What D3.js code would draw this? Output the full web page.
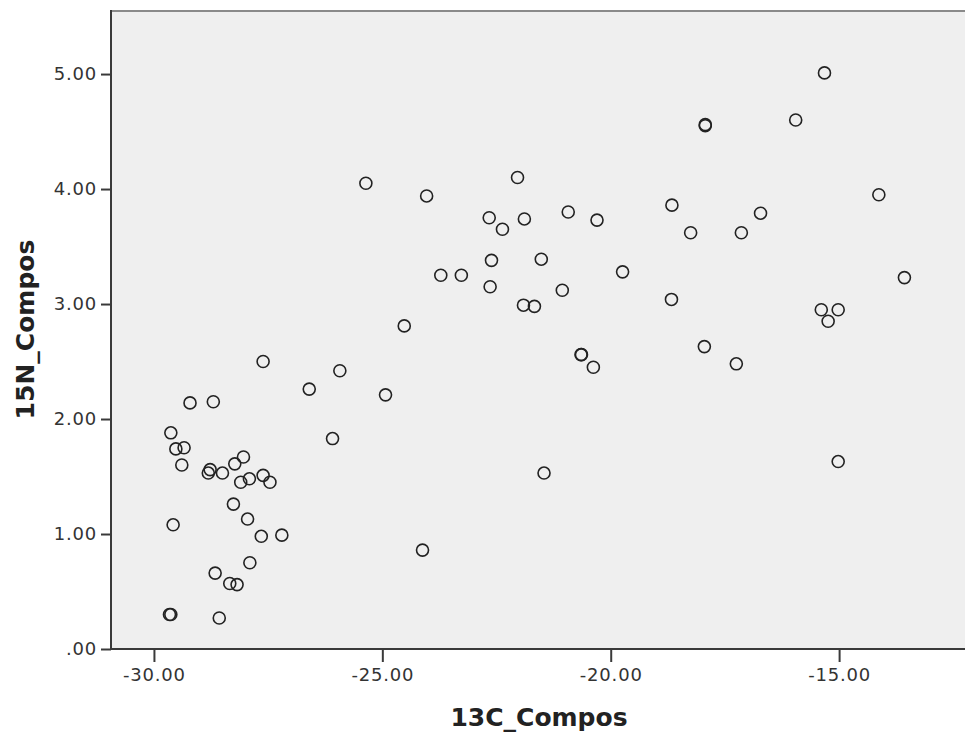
<!DOCTYPE html>
<html>
<head>
<meta charset="utf-8">
<script src="https://cdn.jsdelivr.net/npm/d3@7"></script>
<style>
  body { margin: 0; background: #fff; }
  .axis text { font-family: "DejaVu Sans", sans-serif; font-size: 18px; fill: #333; letter-spacing: 0.8px; }
  .axis path, .axis line { stroke: #3a3a3a; stroke-width: 2; }
  .title { font-family: "DejaVu Sans", sans-serif; font-weight: bold; font-size: 25px; fill: #222; }
</style>
</head>
<body>
<div id="chart"></div>
<script>
// 13C_Compos (x) and 15N_Compos (y)
var c13 = [-29.66, -29.63, -28.57, -29.63, -29.52, -29.34, -29.39, -29.21, -28.70, -29.58,
           -28.77, -28.81, -28.50, -28.23, -28.04, -28.10, -27.91, -27.61, -27.46, -28.26,
           -27.95, -27.65, -27.20, -27.90, -28.66, -28.34, -28.18, -27.61, -26.60, -25.93,
           -26.09, -24.93, -25.36, -24.03, -24.52, -23.72, -23.27, -24.12, -22.04, -22.66,
           -22.37, -21.89, -22.61, -22.64, -21.52, -21.91, -21.67, -21.46, -21.06, -20.93,
           -20.30, -20.65, -20.64, -20.38, -19.74, -18.66, -18.25, -18.67, -17.93, -17.93,
           -17.95, -17.14, -16.72, -17.25, -15.95, -15.32, -15.39, -15.02, -15.24, -15.02,
           -14.13, -13.57];
var n15 = [0.30, 0.30, 0.27, 1.88, 1.74, 1.75, 1.60, 2.14, 2.15, 1.08,
           1.56, 1.53, 1.53, 1.61, 1.67, 1.45, 1.48, 1.51, 1.45, 1.26,
           1.13, 0.98, 0.99, 0.75, 0.66, 0.57, 0.56, 2.50, 2.26, 2.42,
           1.83, 2.21, 4.05, 3.94, 2.81, 3.25, 3.25, 0.86, 4.10, 3.75,
           3.65, 3.74, 3.38, 3.15, 3.39, 2.99, 2.98, 1.53, 3.12, 3.80,
           3.73, 2.56, 2.56, 2.45, 3.28, 3.86, 3.62, 3.04, 4.56, 4.55,
           2.63, 3.62, 3.79, 2.48, 4.60, 5.01, 2.95, 2.95, 2.85, 1.63,
           3.95, 3.23];
var xTicks = [-30, -25, -20, -15];
var yTicks = [0, 1, 2, 3, 4, 5];

(function() {
    var W = 965, H = 736,
        pl = 111, pt = 10, pr = 967, pb = 649;

    var svg = d3.select('#chart').append('svg')
        .attr('width', W)
        .attr('height', H);

    var x = d3.scaleLinear().domain([-30.94, -12.2]).range([pl, pr]);
    var y = d3.scaleLinear().domain([0, 5.557]).range([pb, pt]);

    var fmt = function(d) { return d === 0 ? '.00' : d.toFixed(2); };

    // plot background + top frame
    svg.append('rect')
        .attr('x', pl).attr('y', pt)
        .attr('width', pr - pl).attr('height', pb - pt)
        .attr('fill', '#efefef');
    svg.append('line')
        .attr('x1', pl).attr('x2', pr)
        .attr('y1', pt + 1).attr('y2', pt + 1)
        .attr('stroke', '#8a8a8a').attr('stroke-width', 2);

    var yAxis = svg.append('g')
        .attr('class', 'axis')
        .attr('transform', 'translate(' + pl + ',0)')
        .call(d3.axisLeft(y).tickValues(yTicks).tickFormat(fmt).tickSize(10).tickSizeOuter(0).tickPadding(4));
    yAxis.select('.domain').attr('d', 'M0,' + pt + 'V' + pb);

    var xAxis = svg.append('g')
        .attr('class', 'axis')
        .attr('transform', 'translate(0,' + pb + ')')
        .call(d3.axisBottom(x).tickValues(xTicks).tickFormat(fmt).tickSize(13).tickSizeOuter(0).tickPadding(6));
    xAxis.select('.domain').attr('d', 'M' + pl + ',0H' + pr);

    // points
    svg.append('g').selectAll('circle')
        .data(c13.map(function(d, i) { return [d, n15[i]]; }))
        .enter()
        .append('circle')
        .attr('cx', function(d) { return x(d[0]); })
        .attr('cy', function(d) { return y(d[1]); })
        .attr('r', 6)
        .attr('fill', 'none')
        .attr('stroke', '#222')
        .attr('stroke-width', 1.6);

    // axis titles
    svg.append('text')
        .attr('class', 'title')
        .attr('x', (pl + pr) / 2)
        .attr('y', 726)
        .attr('text-anchor', 'middle')
        .text('13C_Compos');

    svg.append('text')
        .attr('class', 'title')
        .attr('transform', 'translate(34,' + ((pt + pb) / 2) + ') rotate(-90)')
        .attr('text-anchor', 'middle')
        .text('15N_Compos');
})();
</script>
</body>
</html>
